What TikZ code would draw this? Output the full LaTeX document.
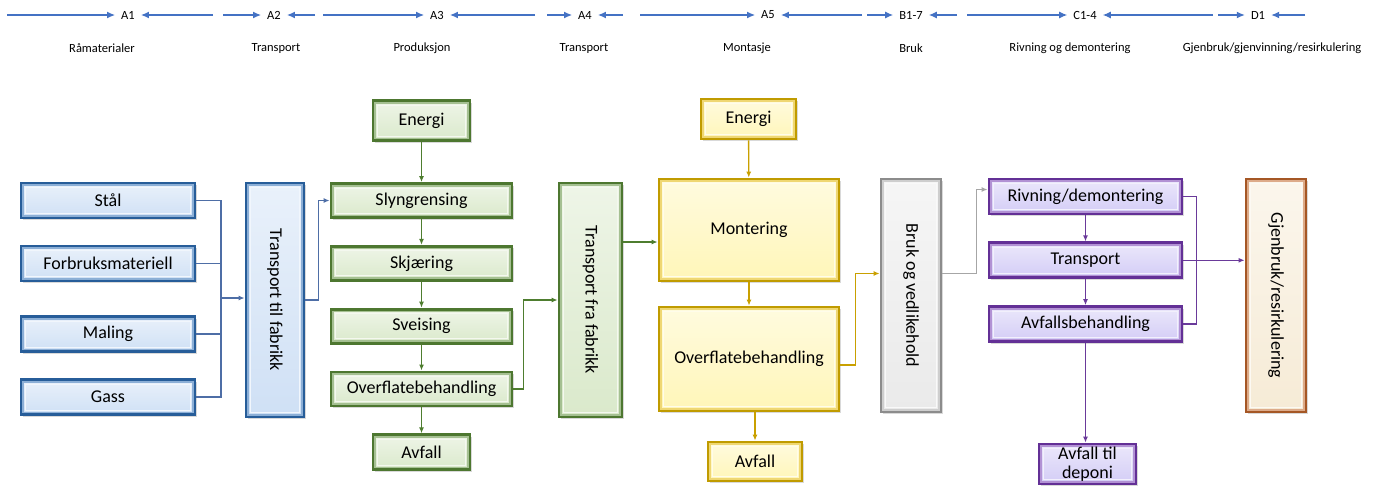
\documentclass[tikz,border=0pt]{standalone}
\usepackage{fontspec}
\setmainfont{Carlito}
\usetikzlibrary{arrows.meta,positioning,shadows,calc}

\definecolor{hdrblue}{HTML}{4472C4}
\definecolor{boxblue}{HTML}{2E6DB4}
\definecolor{boxgreen}{HTML}{5B8C39}
\definecolor{boxgold}{HTML}{E2B600}
\definecolor{boxgrey}{HTML}{A5A5A5}
\definecolor{boxpurple}{HTML}{7438B0}
\definecolor{boxorange}{HTML}{C2662B}
\definecolor{faceblue}{HTML}{CFE0F5}
\definecolor{facegreen}{HTML}{DAE9CB}
\definecolor{facegold}{HTML}{FFF6B8}
\definecolor{facegrey}{HTML}{EAEAEA}
\definecolor{facepurple}{HTML}{D3CCF6}
\definecolor{faceorange}{HTML}{F6EBD6}
\definecolor{lineblue}{HTML}{4E6EA6}
\definecolor{linegreen}{HTML}{4E7D2F}
\definecolor{linegold}{HTML}{C9A000}
\definecolor{linegrey}{HTML}{A6A6A6}
\definecolor{linepurple}{HTML}{6A3A9A}

\begin{document}
\begin{tikzpicture}[x=1pt,y=-1pt,
  box/.style 2 args={rectangle,draw=#1!85!black,line width=2.8pt,
    top color=white!55!#2,bottom color=#2,
    drop shadow={shadow xshift=2pt,shadow yshift=-2pt,opacity=0.3},
    path picture={\draw[#1!55,line width=1.6pt]
      ([shift={(2.2pt,-2.2pt)}]path picture bounding box.north west) rectangle
      ([shift={(-2.2pt,2.2pt)}]path picture bounding box.south east);
      \draw[white!70!#2,line width=1pt]
      ([shift={(4.5pt,-4.5pt)}]path picture bounding box.north west) rectangle
      ([shift={(-4.5pt,4.5pt)}]path picture bounding box.south east);},
    font=\fontsize{18}{19}\selectfont,align=center,inner sep=2pt},
  hdr/.style={font=\fontsize{12.5}{14}\selectfont,inner sep=6pt},
  phase/.style={font=\fontsize{12.5}{14}\selectfont},
  harrow/.style={hdrblue,line width=1.2pt,-{Latex[length=8pt,width=7pt]}},
  conn/.style={#1,line width=1.3pt},
  arr/.style={conn=#1,-{Latex[length=6pt,width=5pt]}}]

\useasboundingbox (0,0) rectangle (1375,490);

% life cycle stages
\node[hdr] (a1) at (128,15) {A1};
\node[hdr] (a2) at (274,15) {A2};
\node[hdr] (a3) at (437,15) {A3};
\node[hdr] (a4) at (585,15) {A4};
\node[hdr] (a5) at (768,15) {A5};
\node[hdr] (b17) at (911,15) {B1-7};
\node[hdr] (c14) at (1085,15) {C1-4};
\node[hdr] (d1) at (1258,15) {D1};

\coordinate (a1l) at (7,15);    \coordinate (a1r) at (213,15);
\coordinate (a2l) at (223,15);  \coordinate (a2r) at (315,15);
\coordinate (a3l) at (323,15);  \coordinate (a3r) at (535,15);
\coordinate (a4l) at (547,15);  \coordinate (a4r) at (623,15);
\coordinate (a5l) at (640,15);  \coordinate (a5r) at (862,15);
\coordinate (b17l) at (867,15); \coordinate (b17r) at (957,15);
\coordinate (c14l) at (967,15); \coordinate (c14r) at (1213,15);
\coordinate (d1l) at (1218,15); \coordinate (d1r) at (1305,15);

\draw[harrow] (a1l) -- (a1);   \draw[harrow] (a1r) -- (a1);
\draw[harrow] (a2l) -- (a2);   \draw[harrow] (a2r) -- (a2);
\draw[harrow] (a3l) -- (a3);   \draw[harrow] (a3r) -- (a3);
\draw[harrow] (a4l) -- (a4);   \draw[harrow] (a4r) -- (a4);
\draw[harrow] (a5l) -- (a5);   \draw[harrow] (a5r) -- (a5);
\draw[harrow] (b17l) -- (b17); \draw[harrow] (b17r) -- (b17);
\draw[harrow] (c14l) -- (c14); \draw[harrow] (c14r) -- (c14);
\draw[harrow] (d1l) -- (d1);   \draw[harrow] (d1r) -- (d1);

\node[phase] (p1) at (102,48) {Råmaterialer};
\node[phase] (p2) at (276,48) {Transport};
\node[phase] (p3) at (422,48) {Produksjon};
\node[phase] (p4) at (584,48) {Transport};
\node[phase] (p5) at (747,48) {Montasje};
\node[phase] (p6) at (911,48) {Bruk};
\node[phase] (p7) at (1070,48) {Rivning og demontering};
\node[phase] (p8) at (1272,48) {Gjenbruk/gjenvinning/resirkulering};

% raw materials
\node[box={boxblue}{faceblue},minimum width=174pt,minimum height=35pt] (stal) at (108,200.5) {Stål};
\node[box={boxblue}{faceblue},minimum width=174pt,minimum height=35pt] (forbruk) at (108,263.5) {Forbruksmateriell};
\node[box={boxblue}{faceblue},minimum width=174pt,minimum height=35pt] (maling) at (108,334) {Maling};
\node[box={boxblue}{faceblue},minimum width=174pt,minimum height=35pt] (gass) at (108,397) {Gass};
\node[box={boxblue}{faceblue},minimum width=58pt,minimum height=234pt] (ttf) at (275,300) {\rotatebox{-90}{Transport til fabrikk}};

% production
\node[box={boxgreen}{facegreen},minimum width=181pt,minimum height=34pt] (slyng) at (421.5,200.5) {Slyngrensing};
\node[box={boxgreen}{facegreen},minimum width=181pt,minimum height=34pt,below=26pt of slyng] (skjaer) {Skjæring};
\node[box={boxgreen}{facegreen},minimum width=181pt,minimum height=34pt,below=26pt of skjaer] (sveis) {Sveising};
\node[box={boxgreen}{facegreen},minimum width=181pt,minimum height=34pt,below=26pt of sveis] (overfl) {Overflatebehandling};
\node[box={boxgreen}{facegreen},minimum width=97pt,minimum height=40pt,above=40pt of slyng] (energiP) {Energi};
\node[box={boxgreen}{facegreen},minimum width=97pt,minimum height=35pt,below=26pt of overfl] (avfallP) {Avfall};
\node[box={boxgreen}{facegreen},minimum width=63pt,minimum height=234pt] (tff) at (590.5,300) {\rotatebox{-90}{Transport fra fabrikk}};

% assembly
\node[box={boxgold}{facegold},minimum width=180pt,minimum height=102pt] (mont) at (749,230) {Montering};
\node[box={boxgold}{facegold},minimum width=180pt,minimum height=104pt] (overflM) at (749,359) {Overflatebehandling};
\node[box={boxgold}{facegold},minimum width=95pt,minimum height=40pt] (energiM) at (748.5,119) {Energi};
\node[box={boxgold}{facegold},minimum width=94pt,minimum height=39pt] (avfallM) at (755,461.5) {Avfall};

% use
\node[box={boxgrey}{facegrey},minimum width=60pt,minimum height=233pt] (bruk) at (911,295.5) {\rotatebox{-90}{Bruk og vedlikehold}};

% end of life
\node[box={boxpurple}{facepurple},minimum width=193pt,minimum height=35pt] (rivning) at (1085.5,196.5) {Rivning/demontering};
\node[box={boxpurple}{facepurple},minimum width=193pt,minimum height=35pt,below=26pt of rivning] (transp) {Transport};
\node[box={boxpurple}{facepurple},minimum width=193pt,minimum height=35pt,below=26pt of transp] (avfb) {Avfallsbehandling};
\node[box={boxpurple}{facepurple},minimum width=97pt,minimum height=40pt] (deponi) at (1087.5,464) {Avfall til\\deponi};
\node[box={boxorange}{faceorange},minimum width=60pt,minimum height=233pt] (gjen) at (1276,295.5) {\rotatebox{-90}{Gjenbruk/resirkulering}};

% connectors
\coordinate (busB) at (221,298);
\draw[conn=lineblue] (stal.east) -| (busB);
\draw[conn=lineblue] (forbruk.east) -| (busB);
\draw[conn=lineblue] (maling.east) -| (busB);
\draw[conn=lineblue] (gass.east) -| (busB);
\draw[arr=lineblue] (busB) -- (busB -| ttf.west);
\draw[arr=lineblue] (ttf.east) -- ++(13,0) |- (slyng.west);

\draw[arr=linegreen] (energiP) -- (slyng);
\draw[arr=linegreen] (slyng) -- (skjaer);
\draw[arr=linegreen] (skjaer) -- (sveis);
\draw[arr=linegreen] (sveis) -- (overfl);
\draw[arr=linegreen] (overfl) -- (avfallP);
\draw[arr=linegreen] (overfl.east) -- ++(10,0) |- (tff.west);
\draw[arr=linegreen] ([yshift=-12pt]mont.west -| tff.east) -- ([yshift=-12pt]mont.west);

\draw[arr=linegold] (energiM) -- (mont);
\draw[arr=linegold] (mont) -- (overflM);
\draw[arr=linegold] (avfallM.north |- overflM.south) -- (avfallM);
\draw[arr=linegold] ([yshift=-6pt]overflM.east) -- ++(15,0) |- ([yshift=22pt]bruk.west);

\draw[arr=linegrey] ([yshift=22pt]bruk.east) -- ++(34,0) |- ([yshift=7pt]rivning.west);

\draw[arr=linepurple] (rivning) -- (transp);
\draw[arr=linepurple] (transp) -- (avfb);
\draw[arr=linepurple] (avfb.south) -- (avfb.south |- deponi.north);
\draw[conn=linepurple] (rivning.east) -- ++(13,0) |- (avfb.east);
\draw[arr=linepurple] (transp.east) -- (transp.east -| gjen.west);

\end{tikzpicture}
\end{document}
